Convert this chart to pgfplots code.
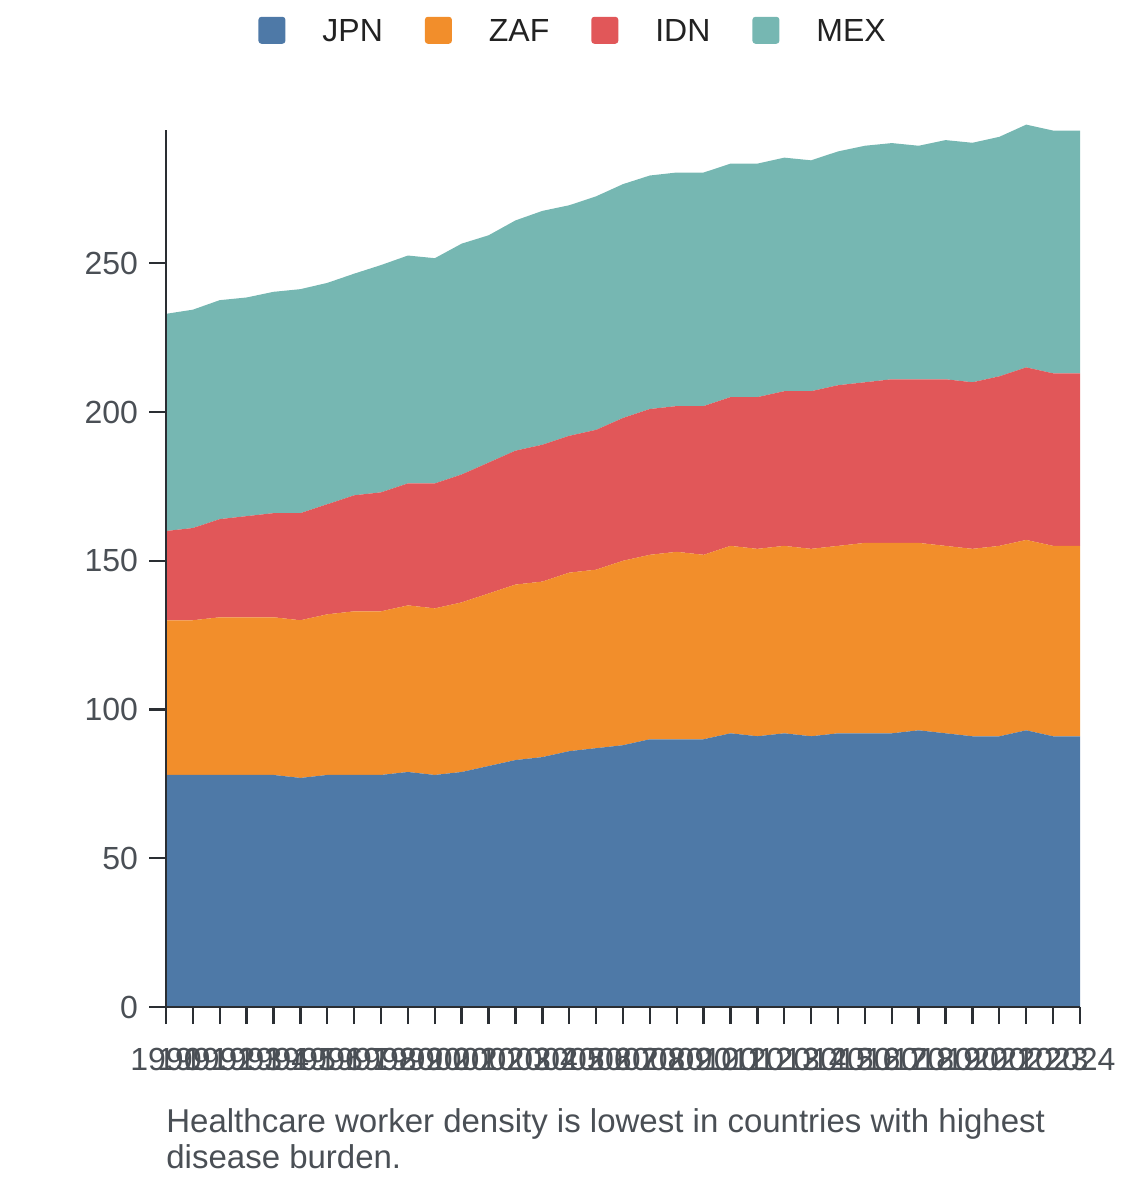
\documentclass[border=0pt]{standalone}
\usepackage{pgfplots}
\pgfplotsset{compat=1.18}
\usepackage{pgfplotstable}
\usepackage{fontspec}
\setmainfont{Liberation Sans}
\definecolor{cJPN}{HTML}{4E79A7}
\definecolor{cZAF}{HTML}{F28E2B}
\definecolor{cIDN}{HTML}{E15759}
\definecolor{cMEX}{HTML}{76B7B2}
\definecolor{axisgray}{HTML}{2A2E33}
\definecolor{labelgray}{HTML}{4A4F55}
\definecolor{legtext}{HTML}{222222}

\pgfplotstableread{
year JPN ZAF IDN MEX
1990 78 52 30 73
1991 78 52 31 73.4
1992 78 53 33 73.6
1993 78 53 34 73.5
1994 78 53 35 74.4
1995 77 53 36 75.3
1996 78 54 37 74.4
1997 78 55 39 74.5
1998 78 55 40 76.4
1999 79 56 41 76.6
2000 78 56 42 75.7
2001 79 57 43 77.6
2002 81 58 44 76.4
2003 83 59 45 77.4
2004 84 59 46 78.6
2005 86 60 46 77.5
2006 87 60 47 78.5
2007 88 62 48 78.6
2008 90 62 49 78.5
2009 90 63 49 78.5
2010 90 62 50 78.5
2011 92 63 50 78.5
2012 91 63 51 78.5
2013 92 63 52 78.5
2014 91 63 53 77.6
2015 92 63 54 78.6
2016 92 64 54 79.5
2017 92 64 55 79.4
2018 93 63 55 78.5
2019 92 63 56 80.4
2020 91 63 56 80.5
2021 91 64 57 80.5
2022 93 64 58 81.6
2023 91 64 58 81.6
2024 91 64 58 81.6
}\datatable

\begin{document}
\begin{tikzpicture}
\useasboundingbox (-83pt,-87.5pt) rectangle (487pt,503.5pt);
\begin{axis}[
  at={(0pt,0pt)}, anchor=south west,
  width=457pt, height=438.5pt, scale only axis,
  xmin=1990, xmax=2024, ymin=0, ymax=294.8,
  clip=false, axis on top,
  axis x line*=bottom, axis y line*=left,
  axis line style={line width=1.2pt, draw=axisgray},
  xtick={1990,...,2024},
  ytick={0,50,...,250},
  tick align=outside,
  major tick length=8.5pt,
  every tick/.style={line width=1.2pt, draw=axisgray},
  /pgf/number format/assume math mode=true,
  x tick label style={/pgf/number format/1000 sep={}, font=\fontsize{16}{18}\selectfont, text=labelgray, yshift=-8.5pt},
  y tick label style={font=\fontsize{16}{18}\selectfont, text=labelgray, xshift=-2pt},
  stack plots=y,
  legend columns=4,
  legend style={draw=none, fill=none, inner sep=0pt,
    at={(0.1007,1.1130)}, anchor=west,
    nodes={inner sep=0pt, text=legtext, font=\fontsize{16}{18}\selectfont},
    /tikz/every even column/.append style={column sep=21pt}},
]
\addplot[draw=none, fill=cJPN, legend image code/.code={\fill[cJPN, rounded corners=1.5pt] (0pt,-5.65pt) rectangle (13.5pt,7.85pt); \path (0pt,0pt) (32pt,0pt);}] table[x=year, y=JPN] {\datatable} \closedcycle;
\addlegendentry{JPN}
\addplot[draw=none, fill=cZAF, legend image code/.code={\fill[cZAF, rounded corners=1.5pt] (0pt,-5.65pt) rectangle (13.5pt,7.85pt); \path (0pt,0pt) (32pt,0pt);}] table[x=year, y=ZAF] {\datatable} \closedcycle;
\addlegendentry{ZAF}
\addplot[draw=none, fill=cIDN, legend image code/.code={\fill[cIDN, rounded corners=1.5pt] (0pt,-5.65pt) rectangle (13.5pt,7.85pt); \path (0pt,0pt) (32pt,0pt);}] table[x=year, y=IDN] {\datatable} \closedcycle;
\addlegendentry{IDN}
\addplot[draw=none, fill=cMEX, legend image code/.code={\fill[cMEX, rounded corners=1.5pt] (0pt,-5.65pt) rectangle (13.5pt,7.85pt); \path (0pt,0pt) (32pt,0pt);}] table[x=year, y=MEX] {\datatable} \closedcycle;
\addlegendentry{MEX}
\end{axis}
\node[anchor=base west, inner sep=0pt, align=left, text=labelgray, font=\fontsize{16.5}{18}\selectfont] at (0pt,-80.5pt) {Healthcare worker density is lowest in countries with highest\\disease burden.};
\end{tikzpicture}
\end{document}
